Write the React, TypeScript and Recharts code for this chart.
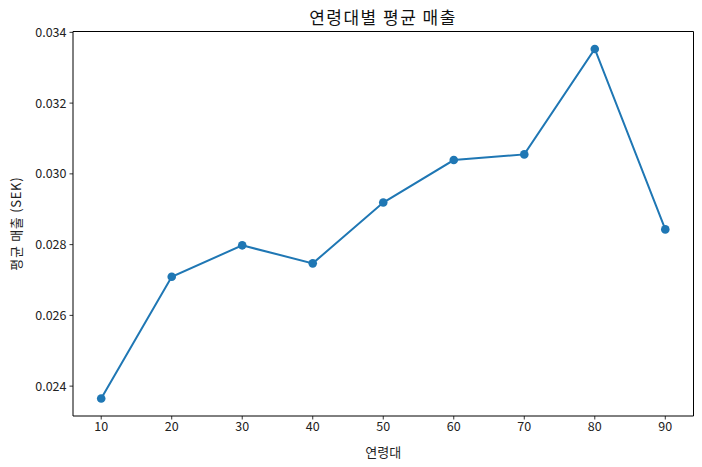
import { Line, LineChart, ReferenceArea, XAxis, YAxis } from "recharts";

// 연령대별 평균 매출 (SEK)
const ageGroups = [10, 20, 30, 40, 50, 60, 70, 80, 90];
const avgSales = [0.02365, 0.02709, 0.02798, 0.02747, 0.02919, 0.03039, 0.03055, 0.03353, 0.02843];
const xTicks = [10, 20, 30, 40, 50, 60, 70, 80, 90];
const yTicks = [0.024, 0.026, 0.028, 0.03, 0.032, 0.034];

const data = ageGroups.map((age, i) => ({ age, sales: avgSales[i] }));

// matplotlib-style 5% padding around the data
const pad = (lo: number, hi: number): [number, number] => {
  const m = (hi - lo) * 0.05;
  return [lo - m, hi + m];
};
const xDomain = pad(Math.min(...ageGroups), Math.max(...ageGroups));
const yDomain = pad(Math.min(...avgSales), Math.max(...avgSales));

const FONT = "'Noto Sans CJK KR', 'Noto Sans', sans-serif";
const tickStyle = { fill: "#222", fontSize: 12.5, fontFamily: FONT };

export default function App() {
  return (
    <div style={{ position: "absolute", left: 0, top: 0, width: 702, height: 467, background: "#fff" }}>
      <div
        style={{
          position: "absolute",
          left: 73,
          width: 620,
          top: 4,
          textAlign: "center",
          fontFamily: FONT,
          fontSize: 17,
          letterSpacing: 1.5,
          color: "#111",
        }}
      >
        연령대별 평균 매출
      </div>
      <LineChart
        width={702}
        height={467}
        data={data}
        margin={{ top: 31.5, right: 8.5, bottom: 6, left: 0 }}
      >
        <XAxis
          dataKey="age"
          type="number"
          domain={xDomain}
          ticks={xTicks}
          allowDataOverflow
          height={45}
          tickSize={3.5}
          tickMargin={3}
          tick={tickStyle}
          axisLine={false}
          tickLine={{ stroke: "#000", strokeWidth: 0.8 }}
          label={{
            content: ({ viewBox }: any) => (
              <text
                x={viewBox.x + viewBox.width / 2}
                y={451}
                textAnchor="middle"
                dominantBaseline="central"
                fontFamily={FONT}
                fontSize={13}
                fill="#222"
              >
                연령대
              </text>
            ),
          }}
        />
        <YAxis
          type="number"
          domain={yDomain}
          ticks={yTicks}
          allowDataOverflow
          width={73}
          tickSize={3.5}
          tickMargin={3}
          tick={tickStyle}
          axisLine={false}
          tickLine={{ stroke: "#000", strokeWidth: 0.8 }}
          tickFormatter={(v: number) => v.toFixed(3)}
          label={{
            content: ({ viewBox }: any) => {
              const cy = viewBox.y + viewBox.height / 2;
              return (
                <text
                  x={15}
                  y={cy}
                  transform={`rotate(-90, 15, ${cy})`}
                  textAnchor="middle"
                  dominantBaseline="central"
                  fontFamily={FONT}
                  fontSize={13}
                  letterSpacing={0.7}
                  fill="#222"
                >
                  평균 매출 (SEK)
                </text>
              );
            },
          }}
        />
        <ReferenceArea
          x1={xDomain[0]}
          x2={xDomain[1]}
          y1={yDomain[0]}
          y2={yDomain[1]}
          stroke="#000"
          strokeWidth={1}
          fill="none"
          ifOverflow="visible"
        />
        <Line
          dataKey="sales"
          stroke="#1f77b4"
          strokeWidth={2}
          dot={{ r: 4.3, fill: "#1f77b4", stroke: "#1f77b4", strokeWidth: 0 }}
          activeDot={false}
          isAnimationActive={false}
        />
      </LineChart>
    </div>
  );
}
